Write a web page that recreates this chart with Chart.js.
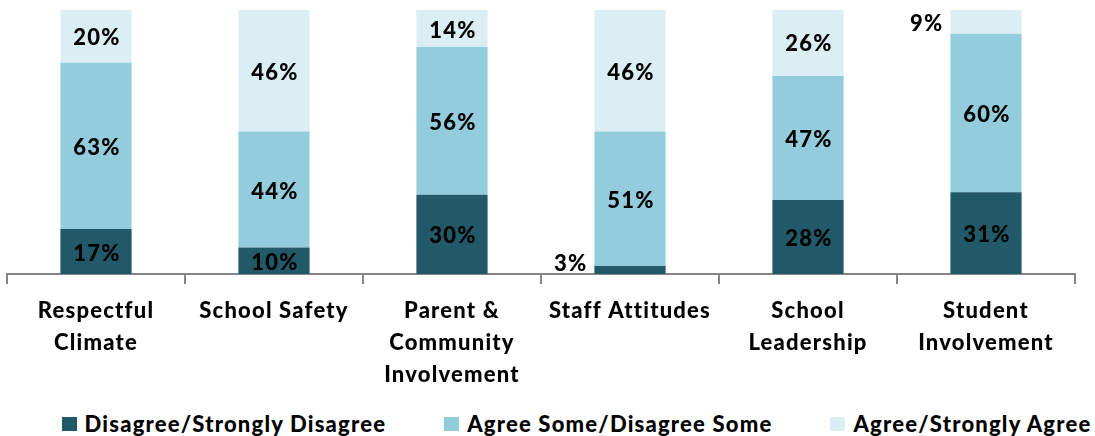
<!DOCTYPE html>
<html>
<head>
<meta charset="utf-8">
<script src="https://cdn.jsdelivr.net/npm/chart.js@4.4.1/dist/chart.umd.min.js"></script>
<style>
  html, body { margin: 0; padding: 0; background: #fff; }
  .wrap { position: relative; width: 1095px; height: 436px; }
  .graph { position: absolute; left: 0; top: 0; width: 1095px; height: 402px; }
  #legend { position: absolute; left: 0; top: 410px; width: 1095px; box-sizing: border-box; padding-left: 58px;
            display: flex; justify-content: center; white-space: nowrap;
            font-family: Lato, sans-serif; font-weight: 900; font-size: 22px; letter-spacing: 1.2px; color: #000; }
  #legend .item { display: flex; align-items: center; flex-shrink: 0; margin: 0 29px; }
  #legend .box { width: 15px; height: 14px; margin-right: 8px; flex-shrink: 0; }
</style>
</head>
<body>
<div class="wrap">
  <div class="graph"><canvas id="myChart"></canvas></div>
  <div id="legend"></div>
</div>
<script>
// categorias e valores (%)
const categorias = [
    ['Respectful', 'Climate'],
    ['School Safety'],
    ['Parent &', 'Community', 'Involvement'],
    ['Staff Attitudes'],
    ['School', 'Leadership'],
    ['Student', 'Involvement']
];
const discordo = [17, 10, 30, 3, 28, 31];
const algum = [63, 44, 56, 51, 47, 60];
const concordo = [20, 46, 14, 46, 26, 9];

const nomesSeries = ['Disagree/Strongly Disagree', 'Agree Some/Disagree Some', 'Agree/Strongly Agree'];
const cores = ['#215968', '#93CDDD', '#DBEEF4'];

// espaçamento de letras para ficar parecido com a fonte original
const espacamento = '1.2px';

const espacoPlugin = {
    id: 'espaco',
    beforeDraw(chart) {
        chart.ctx.letterSpacing = espacamento;
    }
};

// Plugin simples para escrever os rótulos nas barras
const rotulosPlugin = {
    id: 'rotulos',
    afterDatasetsDraw(chart) {
        const ctx = chart.ctx;
        ctx.save();
        ctx.letterSpacing = espacamento;
        ctx.font = '900 22px Lato, sans-serif';
        ctx.fillStyle = '#000';
        ctx.textBaseline = 'middle';
        chart.data.datasets.forEach((ds, i) => {
            const meta = chart.getDatasetMeta(i);
            meta.data.forEach((bar, j) => {
                const v = ds.data[j];
                const p = bar.getProps(['x', 'y', 'base', 'width'], true);
                if (v < 10) {
                    // valor pequeno: escreve do lado esquerdo da barra
                    ctx.textAlign = 'right';
                    ctx.fillText(v + '%', p.x - p.width / 2 - 7, p.base - 10);
                } else {
                    ctx.textAlign = 'center';
                    ctx.fillText(v + '%', p.x + 1, (p.y + p.base) / 2 + 2);
                }
            });
        });
        ctx.restore();
    }
};

const canvas = document.getElementById('myChart');
const ctx = canvas.getContext('2d');

const graph = new Chart(ctx, {
    type: 'bar',
    data: {
        labels: categorias,
        datasets: [
            { label: nomesSeries[0], data: discordo, backgroundColor: cores[0] },
            { label: nomesSeries[1], data: algum, backgroundColor: cores[1] },
            { label: nomesSeries[2], data: concordo, backgroundColor: cores[2] }
        ]
    },
    options: {
        responsive: true,
        maintainAspectRatio: false,
        animation: false,
        datasets: {
            bar: { barPercentage: 0.8, categoryPercentage: 0.5 }
        },
        layout: { padding: { left: 7, right: 20, top: 10, bottom: 0 } },
        plugins: {
            legend: { display: false },
            tooltip: { enabled: false }
        },
        scales: {
            x: {
                stacked: true,
                grid: {
                    offset: true,
                    drawOnChartArea: false,
                    color: '#868686',
                    lineWidth: 2,
                    tickLength: 10
                },
                border: { color: '#868686', width: 2 },
                ticks: {
                    color: '#000',
                    font: { family: 'Lato, sans-serif', weight: '900', size: 22, lineHeight: 1.4545 },
                    maxRotation: 0,
                    autoSkip: false,
                    padding: 11
                }
            },
            y: {
                stacked: true,
                display: false,
                min: 0,
                max: 100
            }
        }
    },
    plugins: [espacoPlugin, rotulosPlugin]
});

// legenda em HTML a partir dos datasets
const legendEl = document.getElementById('legend');
graph.data.datasets.forEach(ds => {
    legendEl.insertAdjacentHTML('beforeend',
        `<div class="item"><span class="box" style="background:${ds.backgroundColor}"></span>${ds.label}</div>`);
});
</script>
</body>
</html>
